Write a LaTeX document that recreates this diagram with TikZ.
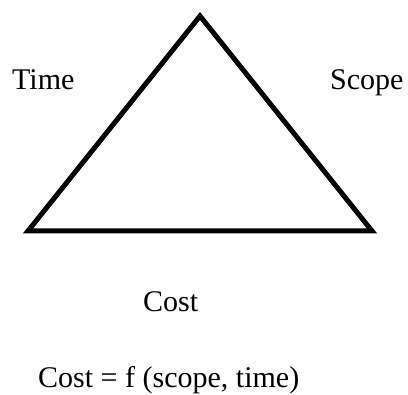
\documentclass[tikz,border=0pt]{standalone}
\usepackage{fontspec}
\setmainfont{Liberation Serif}
\begin{document}
\begin{tikzpicture}[x=1pt,y=1pt,
  lbl/.style={anchor=base west,inner sep=0pt,font=\fontsize{30}{36}\selectfont},
  tri/.style={draw=black,line width=5pt}]
\useasboundingbox (0,0) rectangle (408,395);
\coordinate (top) at (200,379);
\coordinate (bl) at (28,164);
\coordinate (br) at (372,164);
\draw[tri] (top) -- (br) -- (bl) -- cycle;
\node[lbl] (time) at (12,305) {Time};
\node[lbl] (scope) at (330,305) {Scope};
\node[lbl] (cost) at (143,83) {Cost};
\node[lbl] (formula) at (38,7) {Cost = f (scope, time)};
\end{tikzpicture}
\end{document}
